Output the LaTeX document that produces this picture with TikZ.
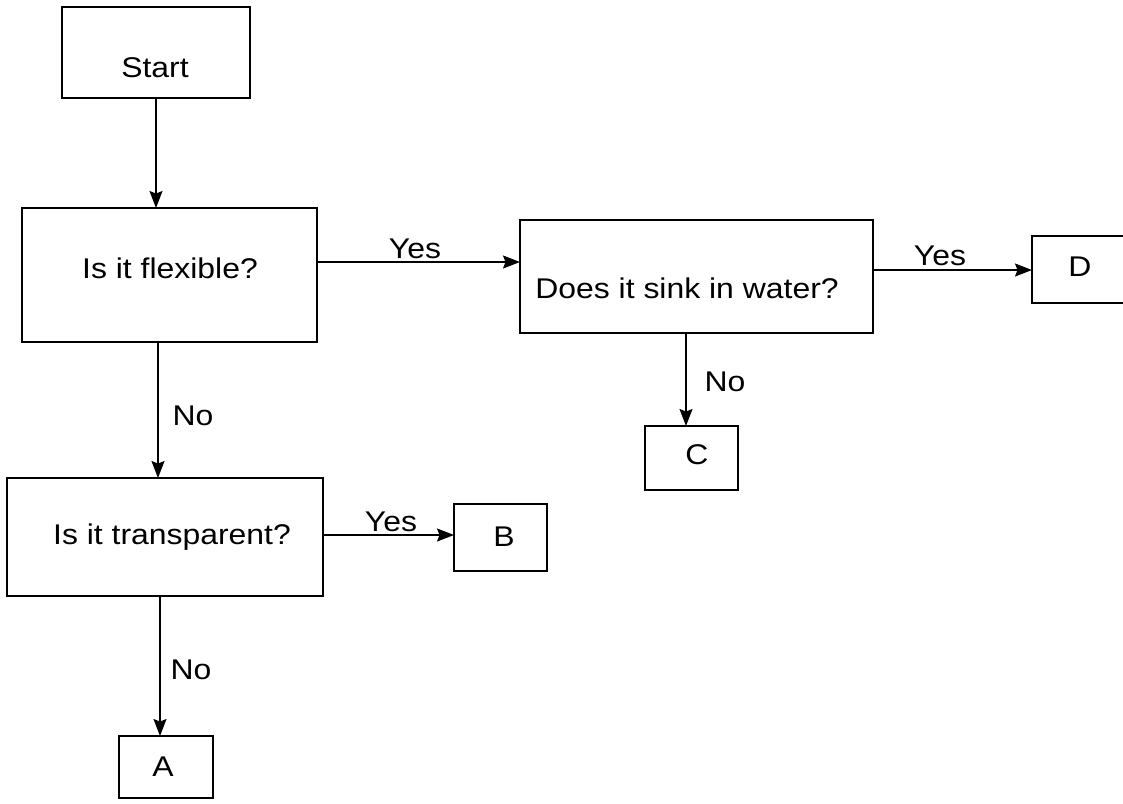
\documentclass[tikz,border=0pt]{standalone}
\usepackage{fontspec}
\setmainfont{Liberation Sans}[FakeStretch=1.12]
\usetikzlibrary{arrows.meta}
\begin{document}
\begin{tikzpicture}[x=1pt,y=-1pt,
  box/.style={draw=black,line width=1.7pt,inner sep=0pt,outer sep=0pt,fill=none},
  txt/.style={inner sep=0pt,font=\fontsize{28.5}{32}\selectfont},
  arr/.style={draw=black,line width=1.4pt,-{Stealth[length=17pt,width=13pt,inset=2.5pt]}}]
\useasboundingbox[fill=white] (0,0) rectangle (1123,803);
% boxes
\node[box,minimum width=188pt,minimum height=91pt] (start) at (156,52.5) {};
\node[box,minimum width=295pt,minimum height=134pt] (flex) at (169.5,275) {};
\node[box,minimum width=353pt,minimum height=113pt] (sink) at (696.5,276.5) {};
\node[box,minimum width=98pt,minimum height=67pt] (D) at (1081,269.5) {};
\node[box,minimum width=93pt,minimum height=64pt] (C) at (691.5,458) {};
\node[box,minimum width=316pt,minimum height=118pt] (trans) at (165,537) {};
\node[box,minimum width=93pt,minimum height=67pt] (B) at (500.5,537.5) {};
\node[box,minimum width=94pt,minimum height=62pt] (A) at (166,767) {};
% box texts
\node[txt] (startT) at (155,68) {Start};
\node[txt] (flexT) at (170,268) {Is it flexible?};
\node[txt] (sinkT) at (687,288) {Does it sink in water?};
\node[txt] (DT) at (1080,267) {D};
\node[txt] (CT) at (697,455) {C};
\node[txt] (transT) at (172,537) {Is it transparent?};
\node[txt] (BT) at (504,537) {B};
\node[txt] (AT) at (163,767) {A};
% connectors
\draw[arr] (start.south) -- (start.south |- flex.north);
\draw[arr] ([yshift=13pt]flex.east) coordinate (fs) -- (fs -| sink.west);
\draw[arr] ([yshift=6.5pt]sink.east) coordinate (sd) -- (sd -| D.west);
\draw[arr] ([xshift=-10.5pt]sink.south) coordinate (sc) -- (sc |- C.north);
\draw[arr] ([xshift=-11.5pt]flex.south) coordinate (ft) -- (ft |- trans.north);
\draw[arr] ([yshift=2pt]trans.east) coordinate (tb) -- (tb -| B.west);
\draw[arr] ([xshift=-5pt]trans.south) coordinate (ta) -- (ta |- A.north);
% labels
\node[txt] (l1) at (415,249) {Yes};
\node[txt] (l2) at (940,256) {Yes};
\node[txt] (l3) at (725,382) {No};
\node[txt] (l4) at (193,416) {No};
\node[txt] (l5) at (391,522) {Yes};
\node[txt] (l6) at (191,670) {No};
\end{tikzpicture}
\end{document}
